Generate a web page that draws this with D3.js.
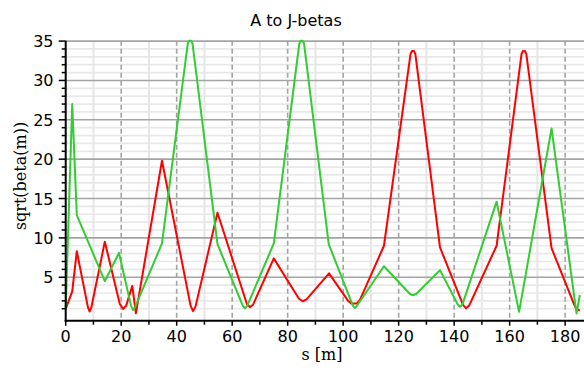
<!DOCTYPE html>
<html>
<head>
<meta charset="utf-8">
<script src="https://cdn.jsdelivr.net/npm/d3@7"></script>
<style>
  html, body { margin: 0; padding: 0; background: #fff; }
  svg { display: block; }
</style>
</head>
<body>
<svg id="chart" width="584" height="368"></svg>
<script>
// -------- DATA --------
const chartTitle = "A to J-betas";
const xLabel = "s [m]";
const yLabel = "sqrt(beta(m))";

const xTicks = [0, 20, 40, 60, 80, 100, 120, 140, 160, 180];
const yTicks = [5, 10, 15, 20, 25, 30, 35];

// red curve
const sRed = [0, 2.35, 4.0, 8.0, 8.6, 9.2, 14.1, 19.5, 20.7, 21.8, 24.0, 25.3, 34.7,
  45.0, 45.9, 46.8, 54.7, 65.3, 66.4, 67.5, 75.0, 84.0, 85.4, 86.8, 94.9,
  101.8, 103.0, 104.8, 106.0, 114.7, 124.3, 124.8, 125.5, 126.0, 134.9,
  143.2, 144.3, 145.4, 155.3, 164.3, 164.8, 165.5, 166.0, 175.1, 183.3, 184.0, 185.3];
const betaRed = [0.97, 3.2, 8.3, 1.2, 0.65, 1.1, 9.5, 1.6, 0.97, 1.4, 3.9, 0.42, 19.8,
  1.4, 0.7, 1.3, 13.2, 1.6, 1.2, 1.5, 7.4, 2.3, 1.95, 2.2, 5.5,
  2.0, 1.65, 1.65, 2.1, 9.0, 33.4, 33.75, 33.75, 33.4, 8.8,
  1.5, 1.05, 1.4, 9.0, 33.4, 33.75, 33.75, 33.4, 8.7, 1.5, 1.0, 0.75];

// green curve
const sGreen = [0, 2.35, 4.0, 14.1, 19.2, 23.6, 24.3, 25.0, 34.7,
  44.0, 44.5, 45.2, 45.7, 54.7, 63.8, 64.6, 65.4, 75.0,
  84.2, 84.7, 85.4, 85.9, 94.8, 103.5, 104.2, 104.9, 114.7,
  124.0, 125.2, 126.4, 134.9, 141.2, 142.1, 143.0, 155.3, 163.4, 175.1, 184.1, 185.3];
const betaGreen = [0.9, 27.0, 12.9, 4.5, 8.1, 1.3, 0.85, 1.2, 9.3,
  34.7, 35.05, 35.05, 34.7, 9.2, 1.4, 1.05, 1.35, 9.3,
  34.7, 35.05, 35.05, 34.7, 9.2, 1.4, 1.1, 1.35, 6.4,
  2.9, 2.7, 2.9, 5.9, 1.6, 1.25, 1.55, 14.6, 0.6, 23.9, 0.4, 2.75];

// -------- LAYOUT --------
const svg = d3.select("#chart");
const plot = { left: 65.7, right: 584, top: 40.7, bottom: 320.7 };

const x = d3.scaleLinear().domain([0, 186.8]).range([plot.left, plot.right]);
const y = d3.scaleLinear().domain([-0.52, 35.05]).range([plot.bottom, plot.top]);

// -------- GRID --------
const grid = svg.append("g").attr("class", "grid");

// minor horizontal (every 1)
grid.selectAll("line.hmin")
  .data(d3.range(1, 36).filter(v => v % 5 !== 0))
  .enter().append("line")
  .attr("x1", plot.left).attr("x2", plot.right)
  .attr("y1", d => y(d)).attr("y2", d => y(d))
  .attr("stroke", "#e8e8e8")
  .attr("stroke-width", 1.7);

// minor vertical (every 10)
grid.selectAll("line.vmin")
  .data(d3.range(10, 190, 20))
  .enter().append("line")
  .attr("x1", d => x(d)).attr("x2", d => x(d))
  .attr("y1", plot.top).attr("y2", plot.bottom)
  .attr("stroke", "#e6e6e6")
  .attr("stroke-width", 2);

// major horizontal
grid.selectAll("line.hmaj")
  .data(yTicks)
  .enter().append("line")
  .attr("x1", plot.left).attr("x2", plot.right)
  .attr("y1", d => y(d)).attr("y2", d => y(d))
  .attr("stroke", "#a4a4a4")
  .attr("stroke-width", 1.6);

// major vertical, dashed
grid.selectAll("line.vmaj")
  .data(xTicks.filter(d => d > 0))
  .enter().append("line")
  .attr("x1", d => x(d)).attr("x2", d => x(d))
  .attr("y1", plot.top).attr("y2", plot.bottom)
  .attr("stroke", "#a4a4a4")
  .attr("stroke-width", 1.6)
  .attr("stroke-dasharray", "5,3");

// -------- CURVES --------
const line = d3.line()
  .x(d => x(d[0]))
  .y(d => y(d[1]));

svg.append("path")
  .datum(d3.zip(sRed, betaRed))
  .attr("d", line)
  .attr("fill", "none")
  .attr("stroke", "#ff0000")
  .attr("stroke-width", 2)
  .attr("stroke-linejoin", "round");

svg.append("path")
  .datum(d3.zip(sGreen, betaGreen))
  .attr("d", line)
  .attr("fill", "none")
  .attr("stroke", "#33cc33")
  .attr("stroke-width", 2)
  .attr("stroke-linejoin", "round");

// -------- AXES --------
const axes = svg.append("g").attr("class", "axes");

axes.append("line")
  .attr("x1", plot.left).attr("x2", plot.left)
  .attr("y1", plot.top).attr("y2", plot.bottom + 1)
  .attr("stroke", "#000").attr("stroke-width", 2);

axes.append("line")
  .attr("x1", plot.left - 1).attr("x2", plot.right)
  .attr("y1", plot.bottom).attr("y2", plot.bottom)
  .attr("stroke", "#000").attr("stroke-width", 2);

// y ticks: minor every 1, major every 5
axes.selectAll("line.ytmin")
  .data(d3.range(1, 36).filter(v => v % 5 !== 0))
  .enter().append("line")
  .attr("x1", plot.left - 4).attr("x2", plot.left)
  .attr("y1", d => y(d)).attr("y2", d => y(d))
  .attr("stroke", "#000").attr("stroke-width", 1.5);

axes.selectAll("line.ytmaj")
  .data(yTicks)
  .enter().append("line")
  .attr("x1", plot.left - 7).attr("x2", plot.left)
  .attr("y1", d => y(d)).attr("y2", d => y(d))
  .attr("stroke", "#000").attr("stroke-width", 1.5);

// x ticks: minor every 10, major every 20
axes.selectAll("line.xtmin")
  .data(d3.range(10, 190, 20))
  .enter().append("line")
  .attr("x1", d => x(d)).attr("x2", d => x(d))
  .attr("y1", plot.bottom).attr("y2", plot.bottom + 4)
  .attr("stroke", "#000").attr("stroke-width", 1.5);

axes.selectAll("line.xtmaj")
  .data(xTicks)
  .enter().append("line")
  .attr("x1", d => x(d)).attr("x2", d => x(d))
  .attr("y1", plot.bottom).attr("y2", plot.bottom + 5)
  .attr("stroke", "#000").attr("stroke-width", 1.5);

// tick labels
axes.selectAll("text.ylab")
  .data(yTicks)
  .enter().append("text")
  .attr("x", 53.5)
  .attr("y", d => y(d) + 6)
  .attr("text-anchor", "end")
  .attr("font-family", "DejaVu Sans, sans-serif")
  .attr("font-size", 16)
  .attr("fill", "#000")
  .text(d => d);

axes.selectAll("text.xlab")
  .data(xTicks)
  .enter().append("text")
  .attr("x", d => x(d))
  .attr("y", 341.7)
  .attr("text-anchor", "middle")
  .attr("font-family", "DejaVu Sans, sans-serif")
  .attr("font-size", 16)
  .attr("fill", "#000")
  .text(d => d);

// -------- TITLES --------
svg.append("text")
  .attr("x", 296)
  .attr("y", 26)
  .attr("text-anchor", "middle")
  .attr("font-family", "DejaVu Sans, sans-serif")
  .attr("font-size", 16)
  .attr("fill", "#000")
  .text(chartTitle);

svg.append("text")
  .attr("x", 322)
  .attr("y", 360)
  .attr("text-anchor", "middle")
  .attr("font-family", "DejaVu Serif, serif")
  .attr("font-size", 16)
  .attr("fill", "#000")
  .text(xLabel);

svg.append("text")
  .attr("transform", "translate(26,176) rotate(-90)")
  .attr("text-anchor", "middle")
  .attr("font-family", "DejaVu Serif, serif")
  .attr("font-size", 16)
  .attr("fill", "#000")
  .text(yLabel);
</script>
</body>
</html>
